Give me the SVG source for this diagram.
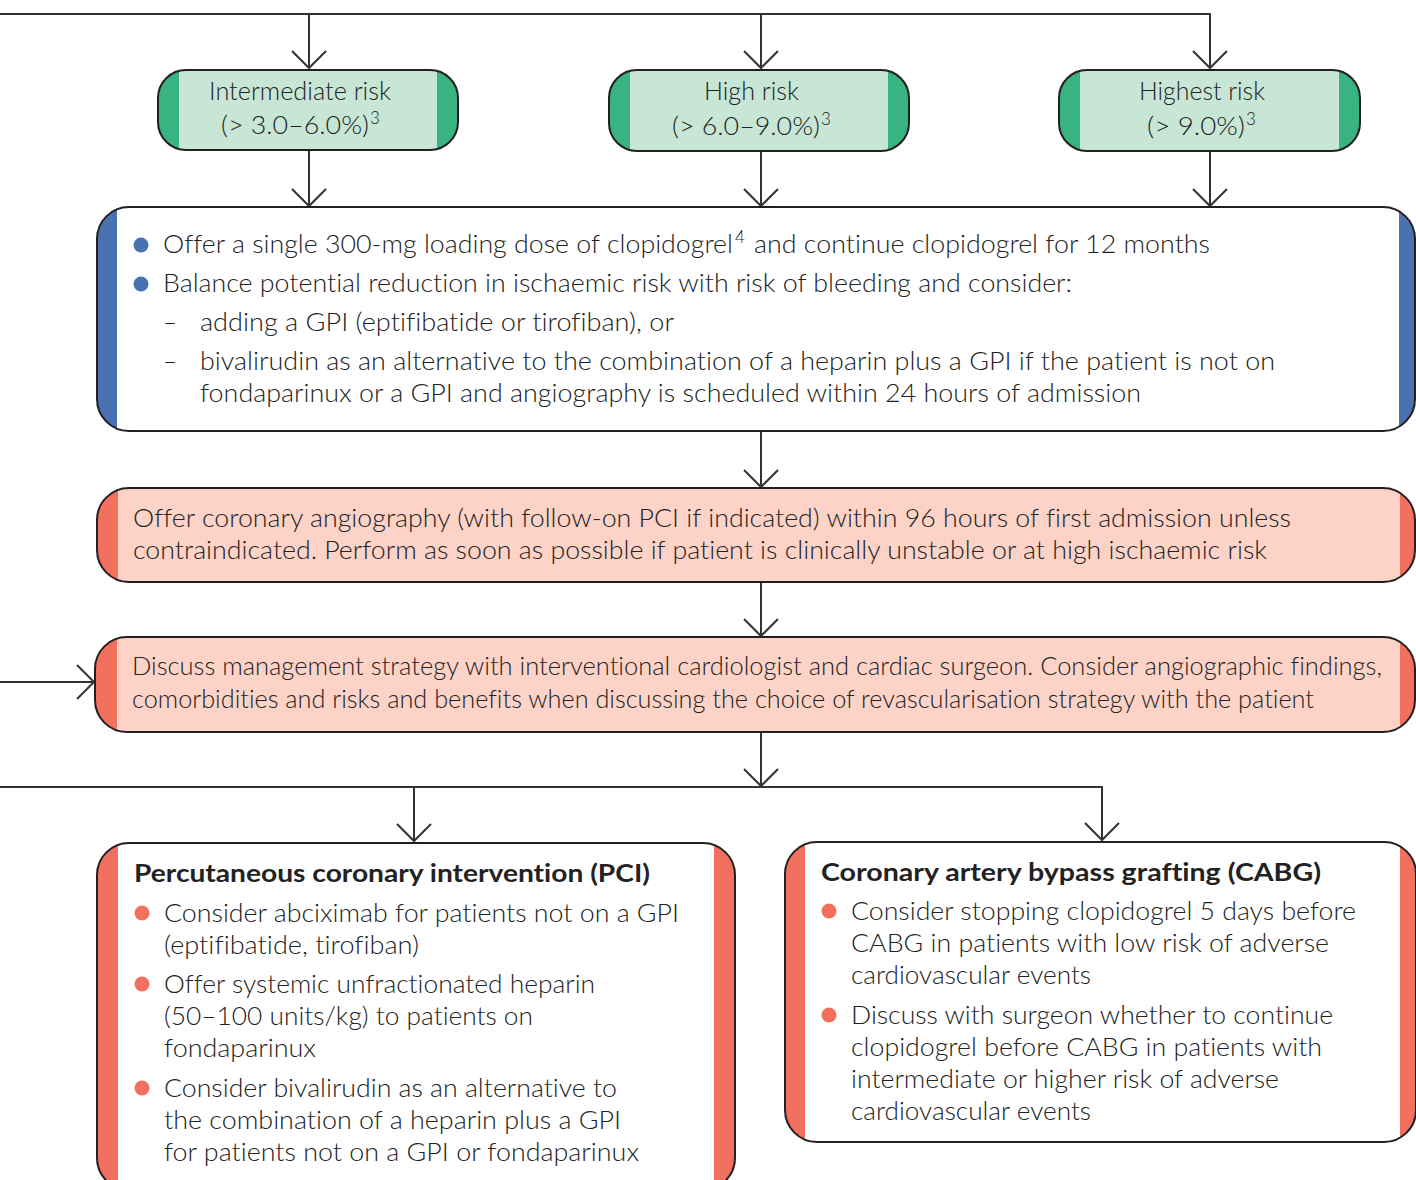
<svg xmlns="http://www.w3.org/2000/svg" width="1416" height="1180" viewBox="0 0 1416 1180">
<defs>
<style>
.t{font-family:Lato,"Noto Sans","Liberation Sans",sans-serif;font-size:25px;font-weight:300;fill:#222;font-variant-ligatures:none}
.b{font-weight:bold}
.sup{font-family:Lato,"Noto Sans","Liberation Sans",sans-serif;font-size:17px;font-weight:300;fill:#222}
.edge{fill:none;stroke:#231f20;stroke-width:2}
.conn{fill:none;stroke:#333;stroke-width:2}
.gF{fill:#c8e6d6}.gB{fill:#38b381}
.wF{fill:#ffffff}.bB{fill:#4a72b0}
.pF{fill:#fdd3c7}.oB{fill:#f2705e}
.dotB{fill:#4a72b0}.dotO{fill:#f2705e}
</style>
<marker id="ah" viewBox="-20 -20 40 40" refX="0" refY="0" markerWidth="40" markerHeight="40" markerUnits="userSpaceOnUse" orient="auto" overflow="visible">
<path d="M-17,-17 L0,0 L-17,17" fill="none" stroke="#333" stroke-width="2"/>
</marker>
</defs>

<g id="connectors">
<path class="conn" d="M0,14 H1210 V68" marker-end="url(#ah)"/>
<path class="conn" d="M309,14 V68" marker-end="url(#ah)"/>
<path class="conn" d="M761,14 V68" marker-end="url(#ah)"/>
<path class="conn" d="M309,151 V206" marker-end="url(#ah)"/>
<path class="conn" d="M761,151 V206" marker-end="url(#ah)"/>
<path class="conn" d="M1210,151 V206" marker-end="url(#ah)"/>
<path class="conn" d="M761,431 V487" marker-end="url(#ah)"/>
<path class="conn" d="M761,582 V636" marker-end="url(#ah)"/>
<path class="conn" d="M0,682 H94" marker-end="url(#ah)"/>
<path class="conn" d="M761,732 V786" marker-end="url(#ah)"/>
<path class="conn" d="M0,787 H1102 V840" marker-end="url(#ah)"/>
<path class="conn" d="M414,787 V841" marker-end="url(#ah)"/>
</g>

<g id="intermediate-risk">
<rect class="gF" x="158" y="70" width="300" height="80" rx="28"/>
<path class="gB" d="M179,70.89 A28 28 0 0 0 158,98 V122 A28 28 0 0 0 179,149.11 Z"/>
<path class="gB" d="M437,70.89 A28 28 0 0 1 458,98 V122 A28 28 0 0 1 437,149.11 Z"/>
<rect class="edge" x="158" y="70" width="300" height="80" rx="28"/>
<text class="t" x="209" y="100" textLength="182" lengthAdjust="spacingAndGlyphs">Intermediate risk</text>
<text class="t" x="221" y="134" textLength="148" lengthAdjust="spacingAndGlyphs">(&gt; 3.0–6.0%)</text>
<text class="sup" x="370" y="124">3</text>
</g>

<g id="high-risk">
<rect class="gF" x="609" y="70" width="300" height="81" rx="28"/>
<path class="gB" d="M630,70.89 A28 28 0 0 0 609,98 V123 A28 28 0 0 0 630,150.11 Z"/>
<path class="gB" d="M888,70.89 A28 28 0 0 1 909,98 V123 A28 28 0 0 1 888,150.11 Z"/>
<rect class="edge" x="609" y="70" width="300" height="81" rx="28"/>
<text class="t" x="704" y="100" textLength="95" lengthAdjust="spacingAndGlyphs">High risk</text>
<text class="t" x="672" y="135" textLength="148" lengthAdjust="spacingAndGlyphs">(&gt; 6.0–9.0%)</text>
<text class="sup" x="821" y="125">3</text>
</g>

<g id="highest-risk">
<rect class="gF" x="1059" y="70" width="301" height="81" rx="28"/>
<path class="gB" d="M1080,70.89 A28 28 0 0 0 1059,98 V123 A28 28 0 0 0 1080,150.11 Z"/>
<path class="gB" d="M1339,70.89 A28 28 0 0 1 1360,98 V123 A28 28 0 0 1 1339,150.11 Z"/>
<rect class="edge" x="1059" y="70" width="301" height="81" rx="28"/>
<text class="t" x="1139" y="100" textLength="126" lengthAdjust="spacingAndGlyphs">Highest risk</text>
<text class="t" x="1147" y="135" textLength="98" lengthAdjust="spacingAndGlyphs">(&gt; 9.0%)</text>
<text class="sup" x="1246" y="125">3</text>
</g>

<g id="clopidogrel-box">
<rect class="wF" x="97" y="207" width="1318" height="224" rx="32"/>
<path class="bB" d="M117,209.34 A32 32 0 0 0 97,239 V399 A32 32 0 0 0 117,428.66 Z"/>
<path class="bB" d="M1399,211.29 A32 32 0 0 1 1415,239 V399 A32 32 0 0 1 1399,426.71 Z"/>
<rect class="edge" x="97" y="207" width="1318" height="224" rx="32"/>
<circle class="dotB" cx="141" cy="245" r="7.5"/>
<circle class="dotB" cx="141" cy="284" r="7.5"/>
<text class="t" x="163" y="253" textLength="570" lengthAdjust="spacingAndGlyphs">Offer a single 300-mg loading dose of clopidogrel</text>
<text class="sup" x="735" y="243">4</text>
<text class="t" x="754" y="253" textLength="456" lengthAdjust="spacingAndGlyphs">and continue clopidogrel for 12 months</text>
<text class="t" x="163" y="292" textLength="909" lengthAdjust="spacingAndGlyphs">Balance potential reduction in ischaemic risk with risk of bleeding and consider:</text>
<text class="t" x="163" y="331" textLength="14" lengthAdjust="spacingAndGlyphs">–</text>
<text class="t" x="200" y="331" textLength="474" lengthAdjust="spacingAndGlyphs">adding a GPI (eptifibatide or tirofiban), or</text>
<text class="t" x="163" y="370" textLength="14" lengthAdjust="spacingAndGlyphs">–</text>
<text class="t" x="200" y="370" textLength="1075" lengthAdjust="spacingAndGlyphs">bivalirudin as an alternative to the combination of a heparin plus a GPI if the patient is not on</text>
<text class="t" x="200" y="402" textLength="941" lengthAdjust="spacingAndGlyphs">fondaparinux or a GPI and angiography is scheduled within 24 hours of admission</text>
</g>

<g id="angiography-box">
<rect class="pF" x="97" y="488" width="1318" height="94" rx="32"/>
<path class="oB" d="M118,489.95 A32 32 0 0 0 97,520 V550 A32 32 0 0 0 118,580.05 Z"/>
<path class="oB" d="M1400,492.89 A32 32 0 0 1 1415,520 V550 A32 32 0 0 1 1400,577.11 Z"/>
<rect class="edge" x="97" y="488" width="1318" height="94" rx="32"/>
<text class="t" x="133" y="527" textLength="1158" lengthAdjust="spacingAndGlyphs">Offer coronary angiography (with follow-on PCI if indicated) within 96 hours of first admission unless</text>
<text class="t" x="133" y="559" textLength="1134" lengthAdjust="spacingAndGlyphs">contraindicated. Perform as soon as possible if patient is clinically unstable or at high ischaemic risk</text>
</g>

<g id="discuss-box">
<rect class="pF" x="95" y="637" width="1320" height="95" rx="32"/>
<path class="oB" d="M117,638.6 A32 32 0 0 0 95,669 V700 A32 32 0 0 0 117,730.4 Z"/>
<path class="oB" d="M1400,641.89 A32 32 0 0 1 1415,669 V700 A32 32 0 0 1 1400,727.11 Z"/>
<rect class="edge" x="95" y="637" width="1320" height="95" rx="32"/>
<text class="t" x="132" y="675" textLength="1250" lengthAdjust="spacingAndGlyphs">Discuss management strategy with interventional cardiologist and cardiac surgeon. Consider angiographic findings,</text>
<text class="t" x="132" y="708" textLength="1182" lengthAdjust="spacingAndGlyphs">comorbidities and risks and benefits when discussing the choice of revascularisation strategy with the patient</text>
</g>

<g id="pci-box">
<rect class="wF" x="97" y="843" width="638" height="347" rx="32"/>
<path class="oB" d="M118,844.95 A32 32 0 0 0 97,875 V1158 A32 32 0 0 0 118,1188.05 Z"/>
<path class="oB" d="M714,844.95 A32 32 0 0 1 735,875 V1158 A32 32 0 0 1 714,1188.05 Z"/>
<rect class="edge" x="97" y="843" width="638" height="347" rx="32"/>
<text class="t b" x="134" y="882" textLength="516" lengthAdjust="spacingAndGlyphs">Percutaneous coronary intervention (PCI)</text>
<circle class="dotO" cx="142" cy="913" r="7.5"/>
<circle class="dotO" cx="142" cy="984" r="7.5"/>
<circle class="dotO" cx="142" cy="1088" r="7.5"/>
<text class="t" x="164" y="922" textLength="515" lengthAdjust="spacingAndGlyphs">Consider abciximab for patients not on a GPI</text>
<text class="t" x="164" y="954" textLength="255" lengthAdjust="spacingAndGlyphs">(eptifibatide, tirofiban)</text>
<text class="t" x="164" y="993" textLength="431" lengthAdjust="spacingAndGlyphs">Offer systemic unfractionated heparin</text>
<text class="t" x="164" y="1025" textLength="369" lengthAdjust="spacingAndGlyphs">(50–100 units/kg) to patients on</text>
<text class="t" x="164" y="1057" textLength="152" lengthAdjust="spacingAndGlyphs">fondaparinux</text>
<text class="t" x="164" y="1097" textLength="453" lengthAdjust="spacingAndGlyphs">Consider bivalirudin as an alternative to</text>
<text class="t" x="164" y="1129" textLength="457" lengthAdjust="spacingAndGlyphs">the combination of a heparin plus a GPI</text>
<text class="t" x="164" y="1161" textLength="475" lengthAdjust="spacingAndGlyphs">for patients not on a GPI or fondaparinux</text>
</g>

<g id="cabg-box">
<rect class="wF" x="785" y="842" width="631" height="300" rx="32"/>
<path class="oB" d="M805,844.34 A32 32 0 0 0 785,874 V1110 A32 32 0 0 0 805,1139.66 Z"/>
<path class="oB" d="M1400,846.29 A32 32 0 0 1 1416,874 V1110 A32 32 0 0 1 1400,1137.71 Z"/>
<rect class="edge" x="785" y="842" width="631" height="300" rx="32"/>
<text class="t b" x="821" y="881" textLength="500" lengthAdjust="spacingAndGlyphs">Coronary artery bypass grafting (CABG)</text>
<circle class="dotO" cx="829" cy="911" r="7.5"/>
<circle class="dotO" cx="829" cy="1015" r="7.5"/>
<text class="t" x="851" y="920" textLength="505" lengthAdjust="spacingAndGlyphs">Consider stopping clopidogrel 5 days before</text>
<text class="t" x="851" y="952" textLength="478" lengthAdjust="spacingAndGlyphs">CABG in patients with low risk of adverse</text>
<text class="t" x="851" y="984" textLength="240" lengthAdjust="spacingAndGlyphs">cardiovascular events</text>
<text class="t" x="851" y="1024" textLength="482" lengthAdjust="spacingAndGlyphs">Discuss with surgeon whether to continue</text>
<text class="t" x="851" y="1056" textLength="471" lengthAdjust="spacingAndGlyphs">clopidogrel before CABG in patients with</text>
<text class="t" x="851" y="1088" textLength="428" lengthAdjust="spacingAndGlyphs">intermediate or higher risk of adverse</text>
<text class="t" x="851" y="1120" textLength="240" lengthAdjust="spacingAndGlyphs">cardiovascular events</text>
</g>
</svg>
